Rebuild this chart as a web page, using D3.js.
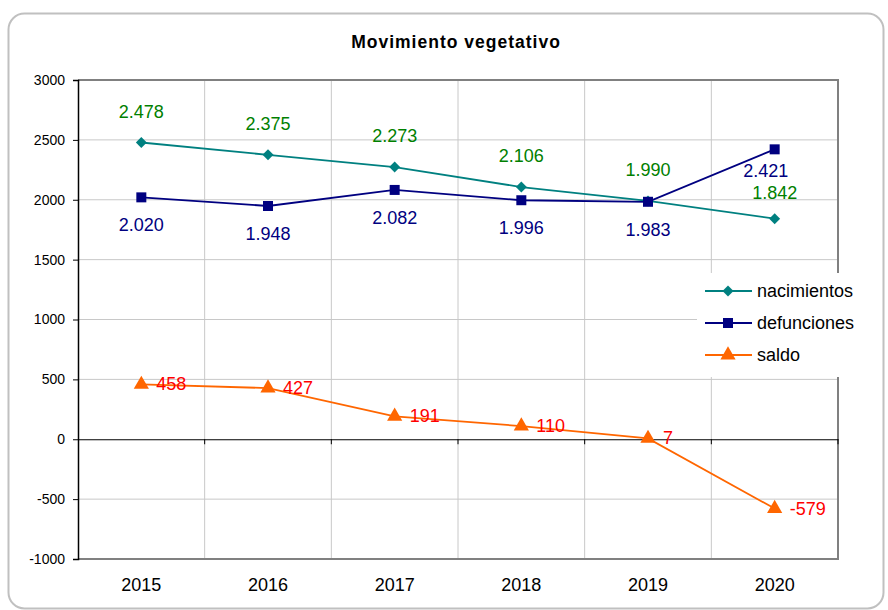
<!DOCTYPE html>
<html>
<head>
	<meta charset="utf-8">
	<script src="https://cdn.jsdelivr.net/npm/d3@7"></script>
	<style>
		body { margin: 0; background: white; }
		text { font-family: "Liberation Sans", Arial, sans-serif; }
	</style>
</head>
<body>
	<script>
		var years = ["2015", "2016", "2017", "2018", "2019", "2020"];
		var nacimientos = [2478, 2375, 2273, 2106, 1990, 1842];
		var defunciones = [2020, 1948, 2082, 1996, 1983, 2421];
		var saldo = [458, 427, 191, 110, 7, -579];
		var yTicks = [-1000, -500, 0, 500, 1000, 1500, 2000, 2500, 3000];

		var width = 888, height = 610;
		var plotLeft = 78, plotRight = 838, plotTop = 80, plotBottom = 559;

		var svg = d3.select("body").append("svg")
			.attr("width", width)
			.attr("height", height);

		// outer frame
		svg.append("rect")
			.attr("x", 8.5).attr("y", 13.5)
			.attr("width", 875).attr("height", 595)
			.attr("rx", 16)
			.attr("fill", "white")
			.attr("stroke", "#c0c0c0")
			.attr("stroke-width", 2);

		svg.append("text")
			.text("Movimiento vegetativo")
			.attr("x", 456).attr("y", 48)
			.attr("text-anchor", "middle")
			.style("font-size", "17.5px")
			.style("font-weight", "bold")
			.style("letter-spacing", "1px");

		var x = d3.scaleBand().domain(years).range([plotLeft, plotRight]);
		var y = d3.scaleLinear().domain([-1000, 3000]).range([plotBottom, plotTop]);
		var cx = function(i) { return x(years[i]) + x.bandwidth() / 2; };

		// gridlines
		svg.append("g").selectAll("line").data(yTicks.filter(function(d) { return d != 0; }))
			.join("line")
			.attr("x1", plotLeft).attr("x2", plotRight)
			.attr("y1", function(d) { return y(d); })
			.attr("y2", function(d) { return y(d); })
			.attr("stroke", "#c8c8c8");
		svg.append("g").selectAll("line").data(years.slice(1))
			.join("line")
			.attr("x1", function(d) { return x(d); })
			.attr("x2", function(d) { return x(d); })
			.attr("y1", plotTop).attr("y2", plotBottom)
			.attr("stroke", "#c8c8c8");

		// plot border
		svg.append("path")
			.attr("d", "M" + plotLeft + "," + plotTop + "H" + plotRight + "V" + plotBottom + "H" + plotLeft)
			.attr("fill", "none")
			.attr("stroke", "#808080")
			.attr("stroke-width", 2);

		// y axis
		var yAxis = svg.append("g")
			.attr("transform", "translate(" + plotLeft + ",0)")
			.call(d3.axisLeft(y).tickValues(yTicks).tickSize(5).tickPadding(8)
				.tickFormat(function(d) { return String(d); }));
		yAxis.select(".domain").attr("stroke", "#000").attr("stroke-width", 1.5);
		yAxis.selectAll("text").style("font-size", "14px").style("font-family", "Liberation Sans, Arial, sans-serif").attr("fill", "#000");

		// zero line with category ticks
		var xAxis = svg.append("g")
			.attr("transform", "translate(0," + y(0) + ")")
			.call(d3.axisBottom(x).tickValues([]).tickSizeOuter(0));
		xAxis.select(".domain").attr("stroke", "#000");
		svg.append("g").selectAll("line").data(years.slice(1).concat(["end"]))
			.join("line")
			.attr("x1", function(d) { return d == "end" ? plotRight : x(d); })
			.attr("x2", function(d) { return d == "end" ? plotRight : x(d); })
			.attr("y1", y(0)).attr("y2", y(0) + 5)
			.attr("stroke", "#000");

		// x labels
		svg.append("g").selectAll("text").data(years)
			.join("text")
			.text(function(d) { return d; })
			.attr("x", function(d) { return x(d) + x.bandwidth() / 2; })
			.attr("y", 591)
			.attr("text-anchor", "middle")
			.style("font-size", "18px");

		var line = d3.line()
			.x(function(d, i) { return cx(i); })
			.y(function(d) { return y(d); });

		// thousands with a dot, plain hyphen for negatives
		var fmt = function(v) {
			var s = String(Math.abs(v)).replace(/\B(?=(\d{3})+(?!\d))/g, ".");
			return (v < 0 ? "-" : "") + s;
		};

		// square rotated 45 degrees
		var rhombus = {
			draw: function(ctx, size) {
				var r = Math.sqrt(size / 2);
				ctx.moveTo(0, -r);
				ctx.lineTo(r, 0);
				ctx.lineTo(0, r);
				ctx.lineTo(-r, 0);
				ctx.closePath();
			}
		};

		var series = [
			{ name: "nacimientos", values: nacimientos, color: "#008080", shape: rhombus, size: 60 },
			{ name: "defunciones", values: defunciones, color: "#000080", shape: d3.symbolSquare, size: 100 },
			{ name: "saldo", values: saldo, color: "#ff6600", shape: d3.symbolTriangle, size: 100 }
		];

		series.forEach(function(s) {
			svg.append("path")
				.attr("d", line(s.values))
				.attr("fill", "none")
				.attr("stroke", s.color)
				.attr("stroke-width", 1.8);
			svg.append("g").selectAll("path").data(s.values)
				.join("path")
				.attr("d", d3.symbol().type(s.shape).size(s.size))
				.attr("transform", function(d, i) { return "translate(" + cx(i) + "," + y(d) + ")"; })
				.attr("fill", s.color);
		});

		// data labels
		svg.append("g").selectAll("text").data(nacimientos)
			.join("text")
			.text(fmt)
			.attr("x", function(d, i) { return cx(i); })
			.attr("y", function(d, i) { return y(d) - (i == 5 ? 20 : 25); })
			.attr("text-anchor", "middle")
			.attr("fill", "#008000")
			.style("font-size", "18px");
		svg.append("g").selectAll("text").data(defunciones)
			.join("text")
			.text(fmt)
			.attr("x", function(d, i) { return cx(i) - (i == 5 ? 9 : 0); })
			.attr("y", function(d, i) { return y(d) + (i == 5 ? 28 : 34); })
			.attr("text-anchor", "middle")
			.attr("fill", "#000080")
			.style("font-size", "18px");
		svg.append("g").selectAll("text").data(saldo)
			.join("text")
			.text(fmt)
			.attr("x", function(d, i) { return cx(i) + 15; })
			.attr("y", function(d) { return y(d) + 6; })
			.attr("fill", "#ff0000")
			.style("font-size", "18px");

		// legend
		var legend = svg.append("g");
		legend.append("rect")
			.attr("x", 697).attr("y", 273)
			.attr("width", 163).attr("height", 104)
			.attr("fill", "white");
		series.forEach(function(s, i) {
			var ly = 291 + i * 32;
			legend.append("line")
				.attr("x1", 705).attr("x2", 752)
				.attr("y1", ly).attr("y2", ly)
				.attr("stroke", s.color).attr("stroke-width", 1.8);
			legend.append("path")
				.attr("d", d3.symbol().type(s.shape).size(s.size))
				.attr("transform", "translate(728," + ly + ")")
				.attr("fill", s.color);
			legend.append("text")
				.text(s.name)
				.attr("x", 757).attr("y", ly + 6)
				.style("font-size", "18px");
		});
	</script>
</body>
</html>
